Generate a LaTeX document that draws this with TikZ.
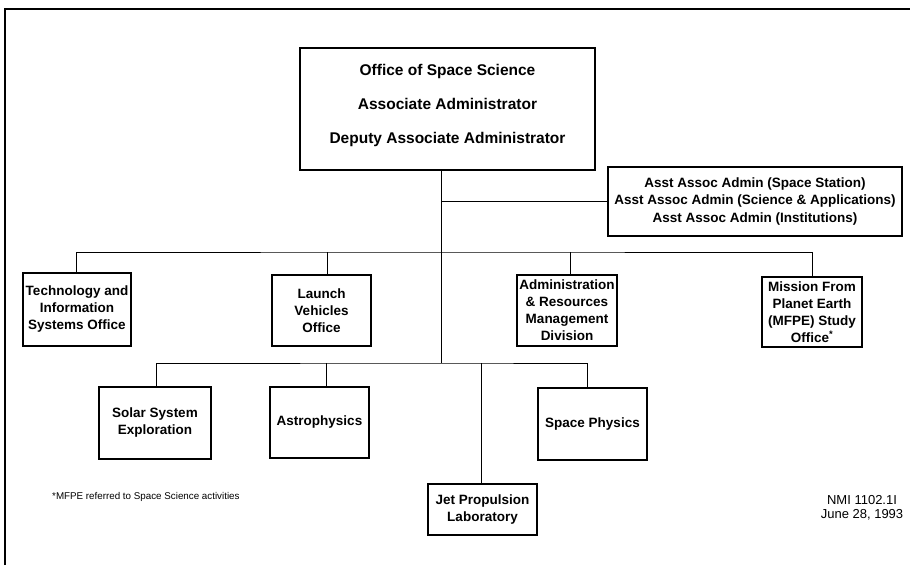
\documentclass[tikz,border=0pt]{standalone}
\usepackage{fontspec}
\setmainfont{Liberation Sans}
\begin{document}
\begin{tikzpicture}[x=1pt,y=-1pt,
  box/.style={draw, line width=1.2pt, inner sep=0pt, align=center,
    font=\bfseries\fontsize{13.5}{17}\selectfont},
  conn/.style={line width=1pt}]
\useasboundingbox (0,0) rectangle (910,565);
\fill[white] (0,0) rectangle (910,565);
% frame
\draw[line width=2pt] (5,565) -- (5,9) -- (910,9);
% top
\node[box, minimum width=295pt, minimum height=122pt, text depth=9.5pt,
  font=\bfseries\fontsize{15.5}{34}\selectfont] (top) at (447.5,109)
  {Office of Space Science\\Associate Administrator\\Deputy Associate Administrator};
\node[box, minimum width=294pt, minimum height=69pt,
  font=\bfseries\fontsize{13.5}{17.5}\selectfont] (asst) at (755,201.5)
  {Asst Assoc Admin (Space Station)\\Asst Assoc Admin (Science \& Applications)\\Asst Assoc Admin (Institutions)};
% row 1
\node[box, minimum width=108pt, minimum height=73pt] (tech) at (77,309.5)
  {Technology and\\Information\\Systems Office};
\node[box, minimum width=99pt, minimum height=71pt] (launch) at (321.5,310.5)
  {Launch\\Vehicles\\Office};
\node[box, minimum width=100pt, minimum height=71pt] (admin) at (567,310.5)
  {Administration\\\& Resources\\Management\\Division};
\node[box, minimum width=100pt, minimum height=70pt] (mfpe) at (812,312)
  {Mission From\\Planet Earth\\(MFPE) Study\\Office\textsuperscript{*}};
% row 2
\node[box, minimum width=112pt, minimum height=72pt] (solar) at (155,423)
  {Solar System\\Exploration};
\node[box, minimum width=99pt, minimum height=71pt] (astro) at (319.5,422.5)
  {Astrophysics};
\node[box, minimum width=109pt, minimum height=51pt] (jpl) at (482.5,509.5)
  {Jet Propulsion\\Laboratory};
\node[box, minimum width=109pt, minimum height=72pt] (sp) at (592.5,424)
  {Space Physics};
% junctions
\coordinate (h1) at (441,252);
\coordinate (h2) at (441,363);
% connectors
\draw[conn] (top.south -| h1) -- (h2);
\draw[conn] (asst.west -| h1) -- (asst.west);
\draw[conn] ([xshift=-1pt]tech.north) |- (h1) -| (mfpe.north);
\draw[conn] ([xshift=5.5pt]launch.north) -- ([xshift=5.5pt]launch.north |- h1);
\draw[conn] ([xshift=3pt]admin.north) -- ([xshift=3pt]admin.north |- h1);
\draw[conn] ([xshift=1pt]solar.north) |- (h2) -| ([xshift=-5.5pt]sp.north);
\draw[conn] ([xshift=6.5pt]astro.north) -- ([xshift=6.5pt]astro.north |- h2);
\draw[conn] ([xshift=-1.5pt]jpl.north) -- ([xshift=-1.5pt]jpl.north |- h2);
% notes
\node[anchor=west, inner sep=0pt, font=\fontsize{9.8}{11}\selectfont] (note) at (52,497)
  {*MFPE referred to Space Science activities};
\node[align=center, inner sep=0pt, font=\fontsize{13}{14}\selectfont] (nmi) at (862,508)
  {NMI 1102.1I\\June 28, 1993};
\end{tikzpicture}
\end{document}
